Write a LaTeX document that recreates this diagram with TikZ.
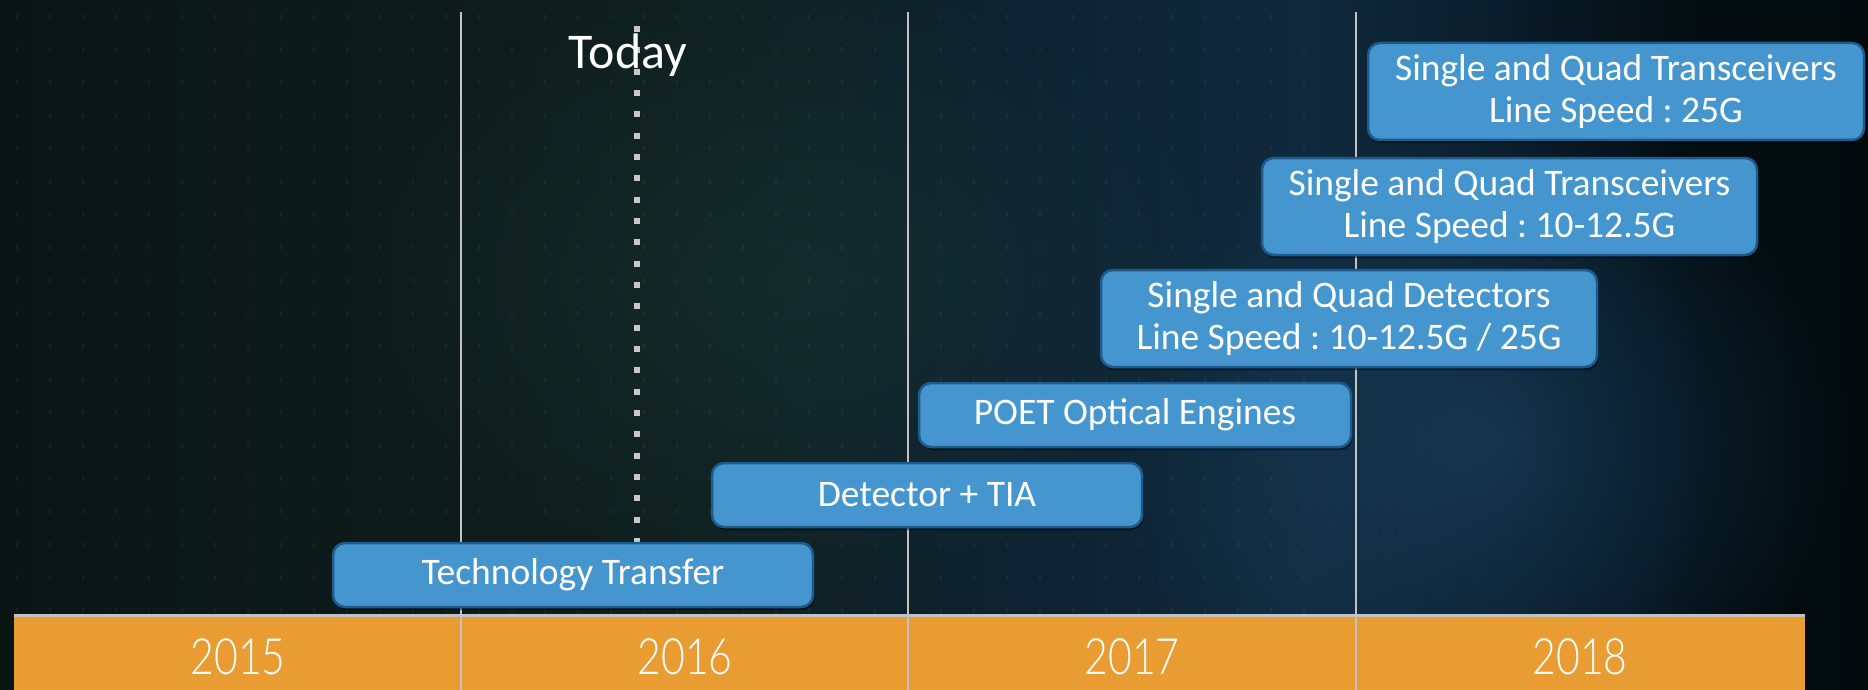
\documentclass[tikz,border=0pt]{standalone}
\usepackage{fontspec}
\setmainfont{Carlito}
\IfFontExistsTF{Lato Light}
  {\newfontfamily\yearfont[FakeStretch=0.82]{Lato Light}}
  {\newfontfamily\yearfont[FakeStretch=0.82]{Lato}}
\usetikzlibrary{shadows,fadings}
\frenchspacing

\definecolor{boxfill}{HTML}{4596CE}
\definecolor{boxedge}{HTML}{1D5A8E}
\definecolor{barfill}{HTML}{E89C32}
\definecolor{rulegray}{HTML}{C2C2C2}
\definecolor{bgA}{HTML}{0A1614}
\definecolor{bgB}{HTML}{0F201F}
\definecolor{bgC}{HTML}{0E2230}
\definecolor{bgD}{HTML}{10293C}
\definecolor{bgE}{HTML}{0A1D2B}
\definecolor{bgF}{HTML}{030D11}
\definecolor{bgG}{HTML}{020A0C}
\definecolor{glowblue}{HTML}{1C4466}
\definecolor{glowteal}{HTML}{1B3A38}

% dark backdrop, greenish on the left, navy towards the right
\pgfdeclarehorizontalshading{backdrop}{100bp}{%
  color(0bp)=(bgA); color(25bp)=(bgA); color(44bp)=(bgB);
  color(52bp)=(bgC); color(60bp)=(bgD); color(65bp)=(bgE);
  color(70.5bp)=(bgF); color(75bp)=(bgG); color(100bp)=(bgG)}

% smooth radial fall-off for soft light spots
\tikzfading[name=softspot, inner color=transparent!0, outer color=transparent!100]

\begin{document}
\begin{tikzpicture}[x=1pt,y=-1pt,
  stage/.style={draw=boxedge, line width=2.5pt, fill=boxfill,
    rounded corners=12pt, text=white, align=center, inner sep=0pt,
    font=\fontsize{37.5}{42}\selectfont,
    drop shadow={shadow xshift=1.5pt, shadow yshift=-3pt, opacity=.45, fill=black}},
  yearlabel/.style={text=white, anchor=base, font=\yearfont\fontsize{50}{50}\selectfont},
  gridline/.style={draw=rulegray, line width=2pt},
]
\useasboundingbox (0,0) rectangle (1868,690);

% background
\shade[shading=backdrop] (0,0) rectangle (1868,690);
\fill[glowblue, opacity=.6, path fading=softspot]
  (1480,440) ellipse [x radius=380, y radius=330];
\fill[glowteal, opacity=.45, path fading=softspot]
  (800,280) ellipse [x radius=450, y radius=320];
% faint dotted texture
\foreach \i in {0,...,39}
  \foreach \j in {0,...,18}
    \fill[white, opacity=.045] ({16+33*\i},{14+33*\j}) rectangle ++(2,5);

% year bar
\fill[barfill] (14,617) rectangle (1805,690);
\draw[rulegray, line width=3pt] (14,615.5) -- (1805,615.5);

% year separators
\foreach \xx in {461,908,1356}
  \draw[gridline] (\xx,12) -- (\xx,690);

% current date marker
\coordinate (todaytop) at (637,26);
\coordinate (todaybot) at (637,545);
\draw[rulegray!90!white, line width=6pt, dash pattern=on 6pt off 15.33pt]
  (todaytop) -- (todaybot);
\node[text=white, anchor=base, font=\fontsize{50}{50}\selectfont]
  (today) at (628,69) {Today};

% roadmap stages
\node[stage, minimum width=480, minimum height=64] (tech)  at (573,575)    {Technology Transfer};
\node[stage, minimum width=430, minimum height=64] (det)   at (927,495)    {Detector + TIA};
\node[stage, minimum width=432, minimum height=64] (poet)  at (1135,415)   {POET Optical Engines};
\node[stage, minimum width=496, minimum height=97] (sqd)   at (1349,318.5) {Single and Quad Detectors\\Line Speed : 10-12.5G / 25G};
\node[stage, minimum width=495, minimum height=97] (sqtA)  at (1509.5,206.5) {Single and Quad Transceivers\\Line Speed : 10-12.5G};
\node[stage, minimum width=496, minimum height=97] (sqtB)  at (1616,91.5)  {Single and Quad Transceivers\\Line Speed : 25G};

% years
\node[yearlabel] (y2015) at (238,674)  {2015};
\node[yearlabel] (y2016) at (685,674)  {2016};
\node[yearlabel] (y2017) at (1132,674) {2017};
\node[yearlabel] (y2018) at (1580,674) {2018};
\end{tikzpicture}
\end{document}
